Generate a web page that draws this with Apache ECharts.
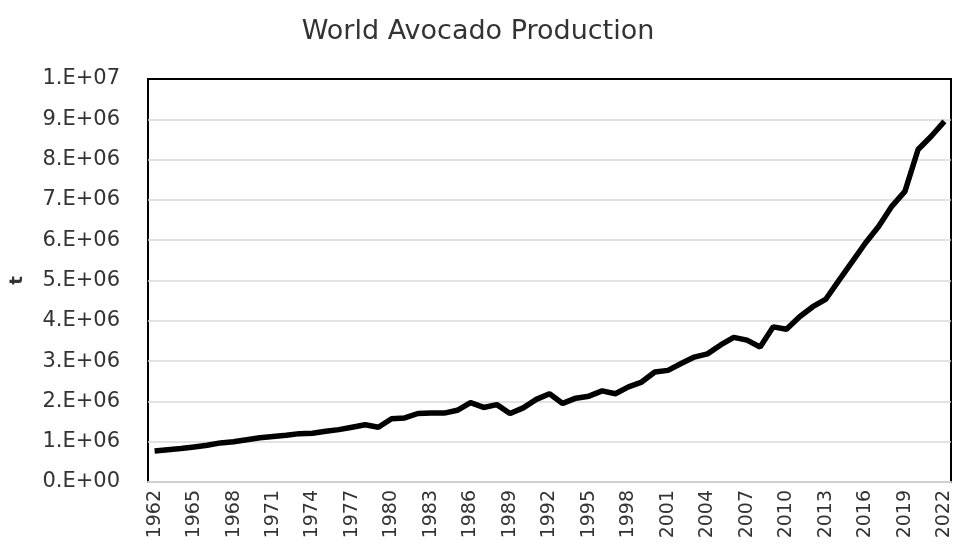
<!DOCTYPE html>
<html>
<head>
<meta charset="utf-8">
<script src="https://cdn.jsdelivr.net/npm/echarts@6/dist/echarts.min.js"></script>
<style>
  html, body { margin: 0; padding: 0; background: #fff; }
  #chart { width: 956px; height: 543px; }
</style>
</head>
<body>
<div id="chart"></div>
<script>
// years 1962..2022
var years = [];
for (var y = 1962; y <= 2022; y++) years.push(String(y));

// production, tonnes
var production = [
  770000, 800000, 830000, 870000, 910000, 970000, 1000000, 1050000, 1100000, 1130000,
  1160000, 1200000, 1210000, 1260000, 1300000, 1360000, 1420000, 1360000, 1570000, 1590000,
  1700000, 1710000, 1710000, 1780000, 1970000, 1850000, 1920000, 1700000, 1840000, 2050000,
  2190000, 1950000, 2080000, 2130000, 2260000, 2190000, 2360000, 2480000, 2730000, 2770000,
  2940000, 3100000, 3180000, 3400000, 3590000, 3520000, 3350000, 3850000, 3790000, 4100000,
  4350000, 4540000, 5010000, 5470000, 5930000, 6340000, 6840000, 7210000, 8250000, 8580000,
  8950000
];

var yMin = 0, yMax = 10000000, yStep = 1000000;

var chart = echarts.init(document.getElementById("chart"));
var option = {
  backgroundColor: "#ffffff",
  animation: false,
  title: {
    text: "World Avocado Production",
    left: "center",
    top: 13,
    textStyle: {
      fontFamily: "DejaVu Sans",
      fontSize: 27,
      fontWeight: "normal",
      color: "#333333"
    }
  },
  grid: {
    left: 141,
    right: 5,
    top: 79,
    bottom: 61,
    show: true,
    borderColor: "#000000",
    borderWidth: 2,
    backgroundColor: "#ffffff"
  },
  xAxis: [
    {
      type: "category",
      data: years,
      boundaryGap: true,
      axisLine: { show: true, lineStyle: { color: "#d0d0d0", width: 2 } },
      axisTick: { show: false },
      axisLabel: {
        interval: 2,
        rotate: 90,
        margin: 8,
        fontFamily: "DejaVu Sans",
        fontSize: 19,
        color: "#333333"
      },
      splitLine: { show: false }
    },
    {
      // top border of the plot area
      type: "category",
      data: years,
      position: "top",
      axisLine: { show: true, lineStyle: { color: "#000000", width: 2 } },
      axisTick: { show: false },
      axisLabel: { show: false },
      splitLine: { show: false }
    }
  ],
  yAxis: {
    type: "value",
    min: yMin,
    max: yMax,
    interval: yStep,
    name: "t",
    nameLocation: "middle",
    nameRotate: 90,
    nameGap: 122,
    nameTextStyle: {
      fontFamily: "DejaVu Sans",
      fontSize: 18,
      fontWeight: "bold",
      color: "#333333"
    },
    axisLine: { show: false },
    axisTick: { show: false },
    axisLabel: {
      margin: 28,
      fontFamily: "DejaVu Sans",
      fontSize: 21,
      color: "#333333",
      formatter: function (v) {
        if (v === 0) return "0.E+00";
        var e = Math.floor(Math.log10(v) + 1e-9);
        var m = Math.round(v / Math.pow(10, e));
        return m + ".E+" + (e < 10 ? "0" + e : e);
      }
    },
    splitLine: { show: true, lineStyle: { color: "#d9d9d9", width: 1.5 } }
  },
  series: [
    {
      name: "Production",
      type: "line",
      data: production,
      showSymbol: false,
      smooth: false,
      lineStyle: { color: "#000000", width: 5.5 },
      z: 5
    }
  ]
};
chart.setOption(option);
</script>
</body>
</html>
